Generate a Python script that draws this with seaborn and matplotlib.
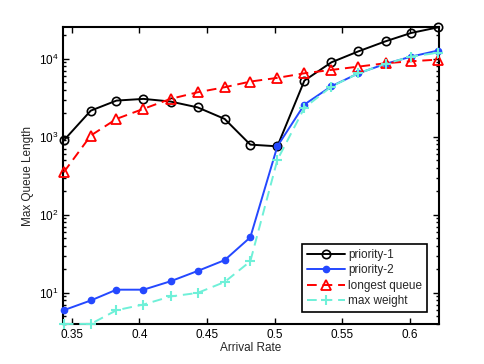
import matplotlib
matplotlib.use("Agg")
import matplotlib.pyplot as plt
import seaborn as sns
import pandas as pd
from matplotlib.ticker import LogLocator

arrival_rate = [0.344, 0.364, 0.383, 0.403, 0.423, 0.443, 0.463, 0.482,
                0.502, 0.522, 0.542, 0.562, 0.582, 0.601, 0.621]
priority_1 = [900, 2170, 2920, 3070, 2840, 2390, 1700, 796, 757,
              5270, 9040, 12500, 16800, 21500, 25400]
priority_2 = [6.0, 8.0, 11.0, 11.0, 14.1, 19.1, 26.3, 51.6, 757,
              2600, 4460, 6540, 8630, 10700, 12800]
longest_queue = [352, 1040, 1700, 2290, 3070, 3730, 4330, 5120, 5710,
                 6540, 7220, 7960, 8790, 9320, 9800]
max_weight = [4.0, 4.0, 6.0, 7.1, 9.0, 10.0, 13.8, 25.4, 507,
              2360, 4420, 6540, 8630, 10700, 12000]
x_ticks = [0.35, 0.4, 0.45, 0.5, 0.55, 0.6]
x_tick_labels = ["0.35", "0.4", "0.45", "0.5", "0.55", "0.6"]

sns.set_style("ticks")
plt.rcParams['font.family'] = ['Liberation Sans', 'DejaVu Sans']
plt.rcParams['mathtext.fontset'] = 'custom'
plt.rcParams['mathtext.rm'] = 'Liberation Sans'

fig = plt.figure(figsize=(4.85, 3.64), dpi=100)
ax = fig.add_axes([0.13, 0.11, 0.775, 0.815])

blue = "#2448ff"
cyan = "#6ff0d8"
series = [
    ("priority-1", priority_1, dict(color="black", linestyle="-", marker="o",
                                    markersize=6, markerfacecolor="none",
                                    markeredgecolor="black", markeredgewidth=1.2)),
    ("priority-2", priority_2, dict(color=blue, linestyle="-", marker="o",
                                    markersize=4.5, markerfacecolor=blue,
                                    markeredgecolor=blue, markeredgewidth=1.0)),
    ("longest queue", longest_queue, dict(color="#ff0000", linestyle=(0, (5, 3)),
                                          marker="^", markersize=7,
                                          markerfacecolor="none",
                                          markeredgecolor="#ff0000",
                                          markeredgewidth=1.3)),
    ("max weight", max_weight, dict(color=cyan, linestyle=(0, (5, 3)),
                                    marker="+", markersize=7,
                                    markeredgecolor=cyan,
                                    markeredgewidth=1.5)),
]

for name, vals, kw in series:
    df = pd.DataFrame({"x": arrival_rate, "y": vals})
    sns.lineplot(data=df, x="x", y="y", ax=ax, label=name, linewidth=1.4,
                 clip_on=False, **kw)

ax.set_yscale("log")
ax.set_xlim(0.3435, 0.6215)
ax.set_ylim(4, 25400)
ax.set_xticks(x_ticks)
ax.set_xticklabels(x_tick_labels)
ax.yaxis.set_major_locator(LogLocator(base=10, numticks=10))
ax.yaxis.set_minor_locator(LogLocator(base=10, subs=range(2, 10), numticks=20))

ax.tick_params(which="both", direction="in", top=True, right=True,
               labelsize=8.5, width=1.0, colors="black")
ax.tick_params(which="major", length=4)
ax.tick_params(which="minor", length=2)
for sp in ax.spines.values():
    sp.set_linewidth(1.5)
    sp.set_color("black")
    sp.set_zorder(1)

ax.set_xlabel("Arrival Rate", fontsize=8.5, labelpad=1)
ax.set_ylabel("Max Queue Length", fontsize=8.5, labelpad=3)

leg = ax.legend(loc="lower right", fontsize=8.5, frameon=True, fancybox=False,
                edgecolor="black", framealpha=1, handlelength=3.2,
                borderpad=0.4, labelspacing=0.3, borderaxespad=1.0,
                handletextpad=0.3)
leg.get_frame().set_linewidth(1.2)
leg.set_zorder(10)

fig.savefig("out.png", dpi=100)
